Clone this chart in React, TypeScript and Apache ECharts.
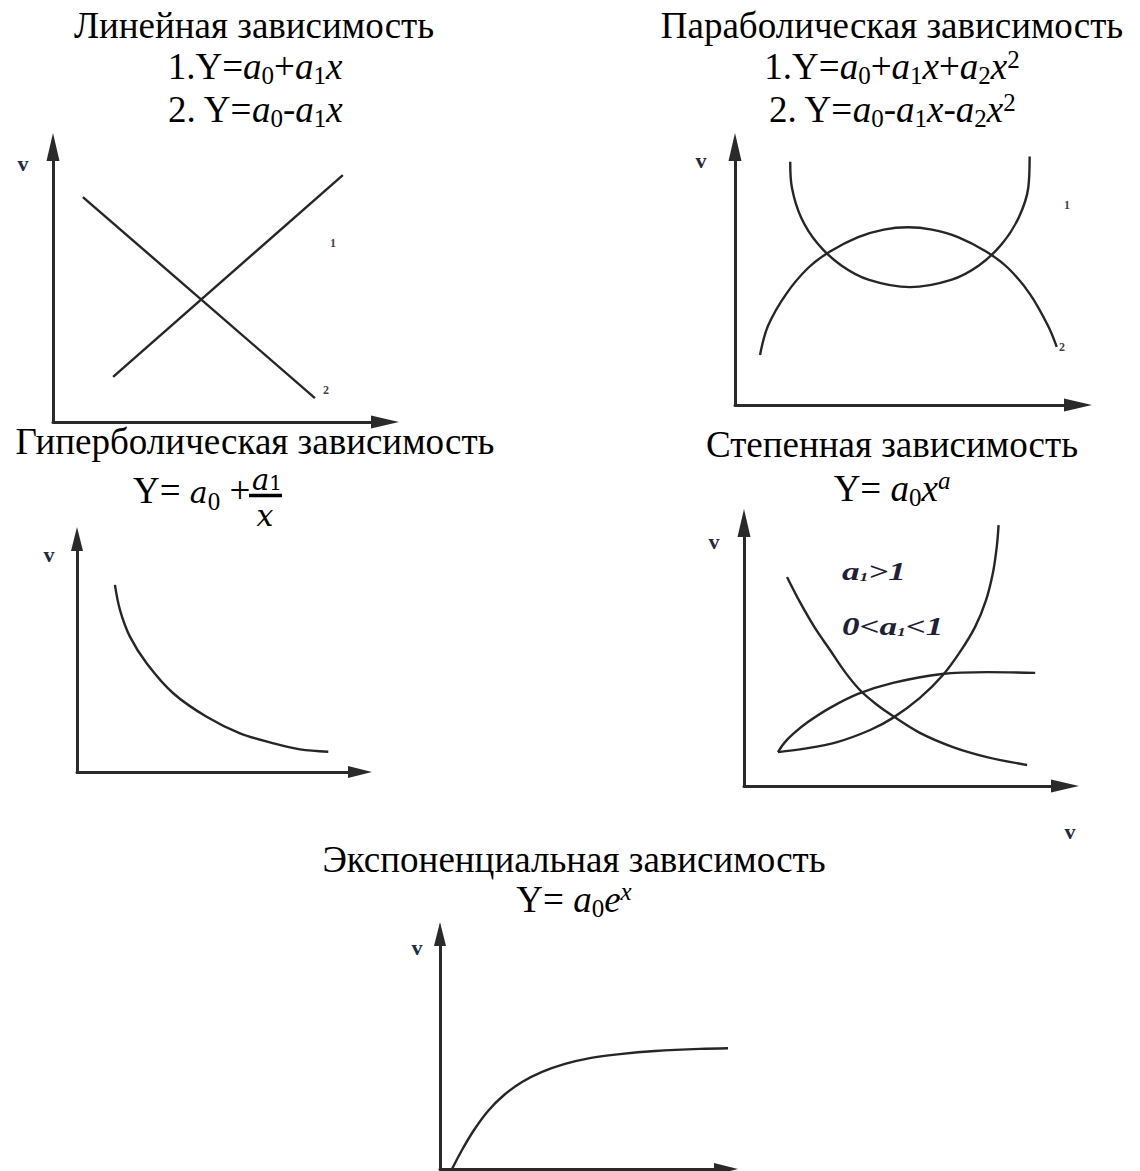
import { useEffect, useRef } from 'react';
import * as echarts from 'echarts';

const SERIF = "'Liberation Serif', 'Times New Roman', serif";
const MATH = "'DejaVu Serif', serif";

// ---- Titles ----
const titles = [
  'Линейная зависимость',
  'Параболическая зависимость',
  'Гиперболическая зависимость',
  'Степенная зависимость',
  'Экспоненциальная зависимость',
];

// ---- Curve data (abstract units 0..10 on every panel) ----
const linearRising = [[1.81, 1.64], [8.73, 8.98]];
const linearFalling = [[0.9, 8.18], [7.89, 0.87]];

const parabolaUp = [
  [1.61, 9.43], [1.66, 8.42], [1.93, 7.26], [2.42, 6.24], [3.1, 5.41], [3.91, 4.85], [5.1, 4.57],
  [6.3, 4.85], [7.11, 5.41], [7.78, 6.24], [8.27, 7.26], [8.55, 8.42], [8.59, 9.63],
];
const parabolaDown = [
  [0.73, 1.94], [0.96, 3.06], [1.49, 4.3], [2.13, 5.31], [2.77, 5.95], [3.59, 6.51], [4.34, 6.8],
  [5.04, 6.89], [5.74, 6.8], [6.5, 6.51], [7.32, 5.95], [7.96, 5.31], [8.6, 4.3], [9.13, 3.06], [9.38, 2.25],
];

const hyperbola = [
  [1.34, 8.03], [1.52, 6.95], [1.87, 5.81], [2.46, 4.67], [3.4, 3.38],
  [4.58, 2.37], [5.76, 1.66], [6.94, 1.23], [7.88, 0.97], [8.88, 0.87],
];

const powerFalling = [
  [1.34, 7.95], [1.74, 7.0], [2.21, 6.01], [2.68, 5.17], [3.15, 4.33], [3.61, 3.65],
  [4.11, 3.12], [4.64, 2.66], [5.48, 2.02], [6.51, 1.48], [7.57, 1.1], [8.82, 0.8],
];
const powerConvex = [
  [1.06, 1.29], [1.84, 1.41], [2.9, 1.67], [3.93, 2.13], [4.64, 2.59], [5.48, 3.35], [6.17, 4.18],
  [6.73, 5.1], [7.2, 6.05], [7.54, 7.07], [7.76, 8.14], [7.88, 9.16], [7.93, 9.92],
];
const powerConcave = [
  [1.06, 1.29], [1.25, 1.63], [1.53, 1.98], [1.99, 2.43], [2.68, 2.97], [3.55, 3.5],
  [4.64, 3.92], [6.17, 4.26], [7.57, 4.33], [9.07, 4.3],
];

const exponential = [
  [0.42, 0], [0.77, 0.81], [1.19, 1.66], [1.68, 2.47], [2.24, 3.15], [2.87, 3.7], [3.57, 4.13],
  [4.37, 4.47], [5.24, 4.72], [6.29, 4.89], [7.52, 5.02], [9.09, 5.11], [10.56, 5.15],
];

const curvesByPanel = [
  [linearRising, linearFalling],
  [parabolaUp, parabolaDown],
  [hyperbola],
  [powerFalling, powerConvex, powerConcave],
  [exponential],
];

// ---- Layout (pixels) ----
const panels = [
  { left: 53, top: 147, width: 332, height: 275, arrow: [13, 28] },
  { left: 735, top: 147, width: 343, height: 258, arrow: [13, 28] },
  { left: 77, top: 539, width: 283, height: 233, arrow: [12, 24] },
  { left: 744, top: 523, width: 321, height: 263, arrow: [13, 28] },
  { left: 440, top: 934, width: 286, height: 235, arrow: [12, 24] },
];

const FS = 37;
const LH = 41;
const RICH: any = {
  i: { fontFamily: SERIF, fontSize: FS, fontStyle: 'italic', lineHeight: LH, fill: '#000' },
  s: { fontFamily: SERIF, fontSize: 25, lineHeight: LH, padding: [17, 0, 0, 0], fill: '#000' },
  p: { fontFamily: SERIF, fontSize: 25, lineHeight: LH, padding: [0, 0, 14, 0], fill: '#000' },
  pi: { fontFamily: SERIF, fontSize: 25, fontStyle: 'italic', lineHeight: LH, padding: [0, 0, 16, 0], fill: '#000' },
  m: { fontFamily: MATH, fontSize: 30, fontStyle: 'italic', lineHeight: LH, padding: [4, 0, 0, 0], fill: '#000' },
  ms: { fontFamily: SERIF, fontSize: 25, lineHeight: LH, padding: [22, 0, 0, 0], fill: '#000' },
};

function text(x: number, y: number, t: string, extra: any = {}, elExtra: any = {}) {
  return {
    type: 'text',
    x,
    y,
    silent: true,
    ...elExtra,
    style: {
      text: t,
      fill: '#000',
      fontFamily: SERIF,
      fontSize: FS,
      lineHeight: LH,
      textAlign: 'center',
      textVerticalAlign: 'middle',
      rich: RICH,
      ...extra,
    },
  };
}

const markStyle = { fontSize: 22, fontWeight: 'bold', fill: '#1f2a44', lineHeight: 22, rich: {} };
const numStyle = { fontSize: 12, fontWeight: 'bold', fill: '#444', lineHeight: 12, rich: {} };
const LABEL_RICH: any = {
  s: {
    fontFamily: SERIF, fontSize: 13, fontStyle: 'italic', fontWeight: 'bold',
    padding: [10, 0, 0, 0], fill: '#1e2038', lineHeight: 28,
  },
};
const labelStyle = {
  textAlign: 'left', fontSize: 26, fontStyle: 'italic', fontWeight: 'bold',
  fill: '#1e2038', lineHeight: 28, rich: LABEL_RICH,
};

function buildOption() {
  const grid = panels.map((p) => ({ left: p.left, top: p.top, width: p.width, height: p.height, containLabel: false }));
  const axisCommon = (i: number) => ({
    gridIndex: i,
    type: 'value',
    min: 0,
    max: 10,
    axisLine: {
      show: true,
      onZero: false,
      symbol: ['none', 'triangle'],
      symbolSize: panels[i].arrow,
      lineStyle: { color: '#2a2a2a', width: 3 },
    },
    axisTick: { show: false },
    axisLabel: { show: false },
    splitLine: { show: false },
  });
  const xAxis = panels.map((_, i) => axisCommon(i));
  const yAxis = panels.map((_, i) => axisCommon(i));
  const series: any[] = [];
  curvesByPanel.forEach((curves, i) => {
    curves.forEach((data) => {
      series.push({
        type: 'line',
        xAxisIndex: i,
        yAxisIndex: i,
        data,
        showSymbol: false,
        smooth: data.length > 2 ? 0.35 : false,
        clip: false,
        silent: true,
        lineStyle: { color: '#262626', width: 2.4 },
      });
    });
  });

  const graphic: any[] = [
    // Linear
    text(254, 25.5, titles[0]),
    text(255, 66.5, '1.Y={i|a}{s|0}+{i|a}{s|1}{i|x}'),
    text(255, 109.5, '2. Y={i|a}{s|0}-{i|a}{s|1}{i|x}'),
    // Parabolic
    text(892, 25.5, titles[1]),
    text(892, 66.5, '1.Y={i|a}{s|0}+{i|a}{s|1}{i|x}+{i|a}{s|2}{i|x}{p|2}'),
    text(892, 109.5, '2. Y={i|a}{s|0}-{i|a}{s|1}{i|x}-{i|a}{s|2}{i|x}{p|2}'),
    // Hyperbolic
    text(255, 441, titles[2], { lineHeight: 36 }),
    text(133, 490.5, 'Y= {m|a}{ms|0} +', { textAlign: 'left' }),
    text(252, 479.5, '{a|a}{b|1}', {
      textAlign: 'left',
      lineHeight: 20,
      rich: {
        a: { fontFamily: MATH, fontSize: 29, fontStyle: 'italic', fill: '#000', lineHeight: 20 },
        b: { fontFamily: MATH, fontSize: 20, fill: '#000', lineHeight: 20, padding: [6, 0, 0, 0] },
      },
    }),
    text(265, 515, 'x', { fontFamily: MATH, fontSize: 30, fontStyle: 'italic', lineHeight: 24, rich: {} }),
    {
      type: 'line',
      silent: true,
      shape: { x1: 249, y1: 495.5, x2: 282, y2: 495.5 },
      style: { stroke: '#000', lineWidth: 3.5 },
    },
    // Power
    text(892, 444.5, titles[3], { lineHeight: 38 }),
    text(892, 488.5, 'Y= {i|a}{s|0}{i|x}{pi|a}'),
    text(842, 571, 'a{s|1}>1', labelStyle, { scaleX: 1.35 }),
    text(842, 626, '0<a{s|1}<1', labelStyle, { scaleX: 1.35 }),
    // Exponential
    text(574, 859.5, titles[4]),
    text(574, 899.5, 'Y= {i|a}{s|0}{i|e}{pi|x}'),
    // axis name marks
    text(23, 163, 'v', markStyle),
    text(701, 160, 'v', markStyle),
    text(49, 554, 'v', markStyle),
    text(714, 541, 'v', markStyle),
    text(417, 947, 'v', markStyle),
    text(1070, 831, 'v', markStyle),
    // curve number marks
    text(333, 243, '1', numStyle),
    text(326, 390, '2', numStyle),
    text(1067, 205, '1', numStyle),
    text(1062, 347, '2', numStyle),
  ];

  return { animation: false, backgroundColor: '#fff', grid, xAxis, yAxis, series, graphic };
}

export default function App() {
  const ref = useRef<HTMLDivElement>(null);
  useEffect(() => {
    const chart = echarts.init(ref.current!, null, { renderer: 'svg' });
    chart.setOption(buildOption() as any);
    return () => chart.dispose();
  }, []);
  return (
    <div
      ref={ref}
      style={{ position: 'absolute', left: 0, top: 0, width: 1140, height: 1171, background: '#fff' }}
    />
  );
}
